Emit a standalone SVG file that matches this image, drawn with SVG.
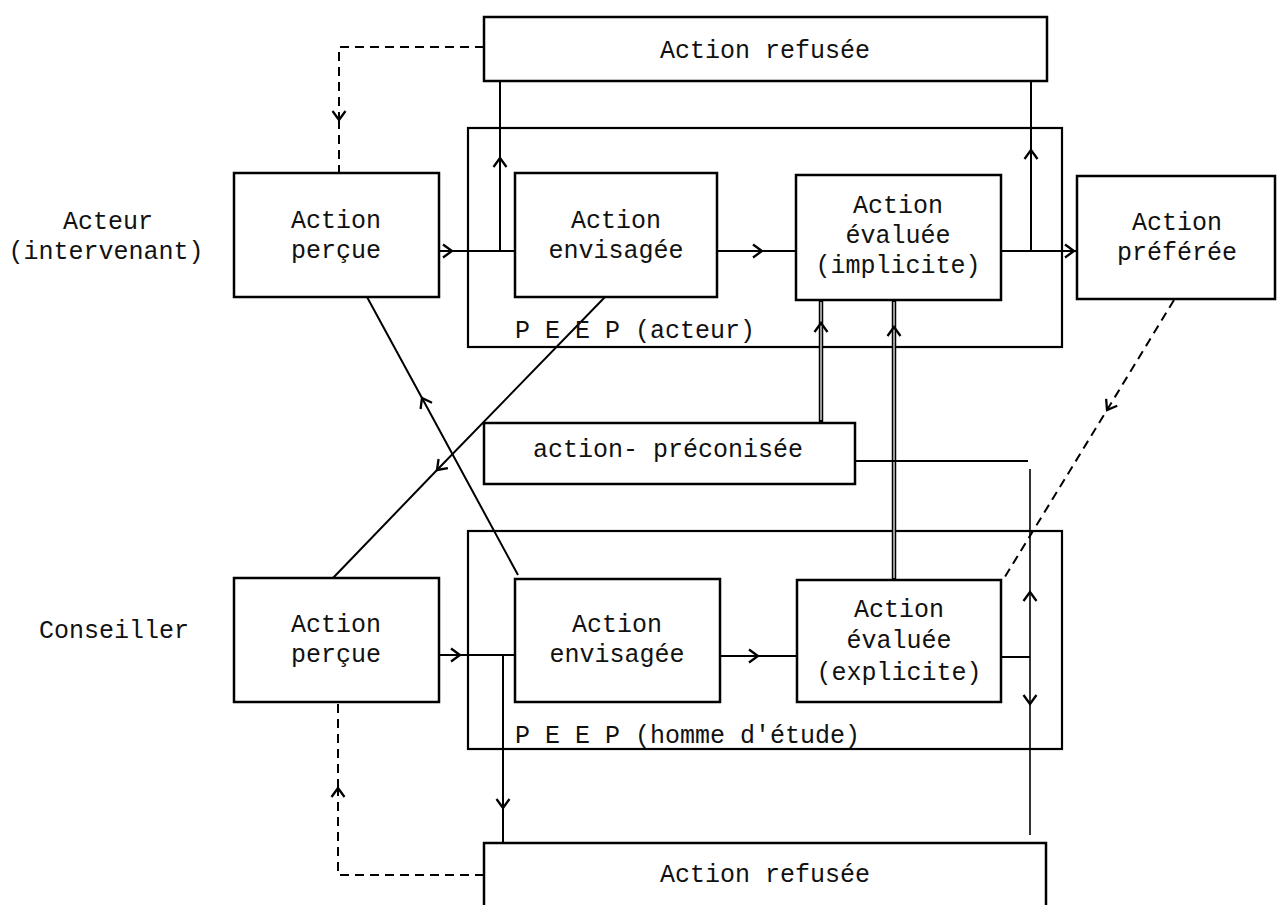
<svg xmlns="http://www.w3.org/2000/svg" width="1277" height="905" viewBox="0 0 1277 905">
<style>
.box{fill:#fff;stroke:#000;stroke-width:2.5}
.frame{fill:none;stroke:#000;stroke-width:2.2}
.ln{fill:none;stroke:#000;stroke-width:2}
.thin{fill:none;stroke:#000;stroke-width:1.6}
.dash{fill:none;stroke:#000;stroke-width:2;stroke-dasharray:9,6}
.dbl{fill:none;stroke:#000;stroke-width:4.5}
.dblin{fill:none;stroke:#fff;stroke-width:1.2}
.mk{fill:none;stroke:none}
text{font-family:"Liberation Mono","DejaVu Sans Mono",monospace;font-size:25px;fill:#111}
.c{text-anchor:middle}
</style>
<defs>
<marker id="arr" viewBox="-12 -9 14 18" refX="0" refY="0" markerWidth="14" markerHeight="18" markerUnits="userSpaceOnUse" orient="auto">
<path d="M-9,-6.5 L0,0 L-9,6.5" fill="none" stroke="#000" stroke-width="2.3" stroke-dasharray="none"/>
</marker>
</defs>
<rect width="1277" height="905" fill="#fff"/>

<g id="frames">
<rect id="peep-acteur" class="frame" x="468" y="128" width="594" height="219"/>
<rect id="peep-homme" class="frame" x="468" y="531" width="594" height="218"/>
</g>

<g id="connectors">
<path class="ln" d="M439,251 L452,251 L515,251" marker-mid="url(#arr)"/>
<path class="ln" d="M500,251 L500,158 L500,81" marker-mid="url(#arr)"/>
<path class="ln" d="M717,251 L762,251 L796,251" marker-mid="url(#arr)"/>
<path class="ln" d="M1001,251 L1074,251 L1077,251" marker-mid="url(#arr)"/>
<path class="ln" d="M1031,251 L1031,150 L1031,81" marker-mid="url(#arr)"/>
<path class="dash" d="M484,47 L339,47 L339,120" marker-end="url(#arr)"/>
<path class="dash" d="M339,120 L339,173"/>
<path class="ln" d="M518,575 L422,398 L367,297" marker-mid="url(#arr)"/>
<path class="ln" d="M605,297 L437,470 L333,578" marker-mid="url(#arr)"/>
<path class="dbl" d="M821,422 L821,300"/>
<path class="dblin" d="M821,420 L821,302"/>
<path class="mk" d="M821,422 L821,323 L821,300" marker-mid="url(#arr)"/>
<path class="dbl" d="M894,580 L894,300"/>
<path class="dblin" d="M894,578 L894,302"/>
<path class="mk" d="M894,580 L894,327 L894,300" marker-mid="url(#arr)"/>
<path class="ln" d="M855,461 L1028,461"/>
<path class="thin" d="M1030,657 L1030,592 L1030,469" marker-mid="url(#arr)"/>
<path class="thin" d="M1030,657 L1030,704 L1030,835" marker-mid="url(#arr)"/>
<path class="ln" d="M1001,657 L1030,657"/>
<path class="dash" d="M1174,300 L1107,410 L1003,580" marker-mid="url(#arr)"/>
<path class="ln" d="M439,655 L460,655 L515,655" marker-mid="url(#arr)"/>
<path class="ln" d="M503,655 L503,808 L503,843" marker-mid="url(#arr)"/>
<path class="ln" d="M720,656 L758,656 L797,656" marker-mid="url(#arr)"/>
<path class="dash" d="M484,875 L338,875 L338,788" marker-end="url(#arr)"/>
<path class="dash" d="M338,788 L338,702"/>
</g>

<g id="labels">
<text class="c" x="108" y="229">Acteur</text>
<text class="c" x="106" y="259">(intervenant)</text>
<text class="c" x="114" y="638">Conseiller</text>
<text x="515" y="338">P E E P (acteur)</text>
<text x="515" y="743">P E E P (homme d'étude)</text>
</g>

<g id="refusee-haut">
<rect class="box" x="484" y="17" width="563" height="64"/>
<text class="c" x="765" y="58">Action refusée</text>
</g>

<g id="percue-acteur">
<rect class="box" x="234" y="173" width="205" height="124"/>
<text class="c" x="336" y="228">Action</text>
<text class="c" x="336" y="258">perçue</text>
</g>

<g id="envisagee-acteur">
<rect class="box" x="515" y="173" width="202" height="124"/>
<text class="c" x="616" y="228">Action</text>
<text class="c" x="616" y="258">envisagée</text>
</g>

<g id="evaluee-implicite">
<rect class="box" x="796" y="175" width="205" height="125"/>
<text class="c" x="898" y="213">Action</text>
<text class="c" x="898" y="243">évaluée</text>
<text class="c" x="898" y="273">(implicite)</text>
</g>

<g id="preferee">
<rect class="box" x="1077" y="176" width="198" height="123"/>
<text class="c" x="1177" y="230">Action</text>
<text class="c" x="1177" y="260">préférée</text>
</g>

<g id="preconisee">
<rect class="box" x="484" y="423" width="371" height="61"/>
<text class="c" x="668" y="457">action- préconisée</text>
</g>

<g id="percue-conseiller">
<rect class="box" x="234" y="578" width="205" height="124"/>
<text class="c" x="336" y="632">Action</text>
<text class="c" x="336" y="662">perçue</text>
</g>

<g id="envisagee-conseiller">
<rect class="box" x="515" y="579" width="205" height="123"/>
<text class="c" x="617" y="632">Action</text>
<text class="c" x="617" y="662">envisagée</text>
</g>

<g id="evaluee-explicite">
<rect class="box" x="797" y="580" width="204" height="122"/>
<text class="c" x="899" y="617">Action</text>
<text class="c" x="899" y="648">évaluée</text>
<text class="c" x="899" y="680">(explicite)</text>
</g>

<g id="refusee-bas">
<rect class="box" x="484" y="843" width="562" height="70"/>
<text class="c" x="765" y="882">Action refusée</text>
</g>
</svg>
